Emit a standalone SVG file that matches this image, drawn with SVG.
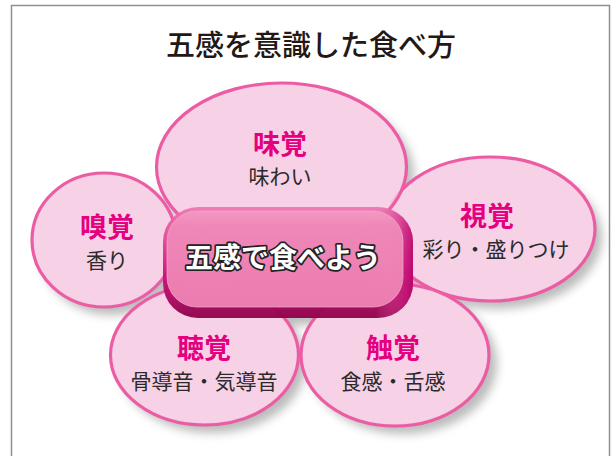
<svg xmlns="http://www.w3.org/2000/svg" width="616" height="456" viewBox="0 0 616 456">
<defs>
<style>
.petal{fill:#F6CBE1;fill-opacity:0.88;stroke:#EC5CA4;stroke-width:3.2}
.lbl{font-family:"Noto Sans CJK JP","Noto Sans",sans-serif;font-weight:bold;font-size:27px;fill:#E4007F;text-anchor:middle}
.sub{font-family:"Noto Sans CJK JP","Noto Sans",sans-serif;font-size:21px;fill:#2a2a2a;text-anchor:middle}
.title{font-family:"Noto Sans CJK JP","Noto Sans",sans-serif;font-weight:500;font-size:29px;fill:#231815;text-anchor:middle}
.hub{font-family:"Noto Sans CJK JP","Noto Sans",sans-serif;font-weight:bold;font-size:28px;fill:#ffffff;stroke:#222;stroke-width:3.5;stroke-linejoin:round;paint-order:stroke;text-anchor:middle}
</style>
<filter id="blur" x="-20%" y="-20%" width="140%" height="140%"><feGaussianBlur stdDeviation="5"/></filter>
<mask id="outside">
<rect x="0" y="0" width="616" height="456" fill="#fff"/>
<g fill="#000">
<ellipse cx="104" cy="240" rx="70" ry="65"/>
<ellipse cx="490" cy="229" rx="103" ry="70"/>
<ellipse cx="204.5" cy="355" rx="92" ry="68"/>
<ellipse cx="395" cy="355" rx="92" ry="69"/>
<ellipse cx="281.5" cy="167" rx="123" ry="82"/>
</g>
</mask>
<linearGradient id="rim" x1="0" y1="0" x2="0" y2="1">
<stop offset="0" stop-color="#EE79B2"/>
<stop offset="0.6" stop-color="#D0107E"/>
<stop offset="1" stop-color="#8E0048"/>
</linearGradient>
<linearGradient id="rimR" x1="0" y1="0" x2="1" y2="0">
<stop offset="0" stop-color="#F07CB4" stop-opacity="0"/>
<stop offset="0.85" stop-color="#F07CB4" stop-opacity="0"/>
<stop offset="1" stop-color="#B80068" stop-opacity="0.8"/>
</linearGradient>
<linearGradient id="face" x1="0" y1="0" x2="0" y2="1">
<stop offset="0" stop-color="#F39AC4"/>
<stop offset="0.15" stop-color="#F08AB9"/>
<stop offset="1" stop-color="#EF84B5"/>
</linearGradient>
</defs>
<rect x="0" y="0" width="616" height="456" fill="#ffffff"/>
<rect x="11.5" y="5.5" width="598" height="470" fill="#ffffff" stroke="#8f8f8f" stroke-width="1.5"/>
<text class="title" x="311" y="56">五感を意識した食べ方</text>
<g id="shadows" mask="url(#outside)">
<g fill="#6a6a6a" opacity="0.45" filter="url(#blur)">
<ellipse cx="111" cy="248" rx="72" ry="67"/>
<ellipse cx="497" cy="237" rx="105" ry="72"/>
<ellipse cx="212" cy="363" rx="94" ry="70"/>
<ellipse cx="403" cy="363" rx="94" ry="71"/>
<ellipse cx="289" cy="175" rx="125" ry="84"/>
<rect x="168" y="214" width="250" height="111" rx="35"/>
</g>
</g>
<g id="smell">
<ellipse class="petal" cx="104" cy="240" rx="72" ry="67"/>
<text class="lbl" x="107" y="237">嗅覚</text>
<text class="sub" x="107" y="268">香り</text>
</g>
<g id="sight">
<ellipse class="petal" cx="490" cy="229" rx="105" ry="72"/>
<text class="lbl" x="487" y="226">視覚</text>
<text class="sub" x="496" y="257">彩り・盛りつけ</text>
</g>
<g id="hearing">
<ellipse class="petal" cx="204.5" cy="355" rx="94" ry="70"/>
<text class="lbl" x="204" y="358">聴覚</text>
<text class="sub" x="204" y="389">骨導音・気導音</text>
</g>
<g id="touch">
<ellipse class="petal" cx="395" cy="355" rx="94" ry="71"/>
<text class="lbl" x="393" y="358">触覚</text>
<text class="sub" x="393" y="389">食感・舌感</text>
</g>
<g id="taste">
<ellipse class="petal" cx="281.5" cy="167" rx="125" ry="84"/>
<text class="lbl" x="280" y="154">味覚</text>
<text class="sub" x="280" y="184">味わい</text>
</g>
<g id="hub">
<rect x="163" y="207" width="250" height="111" rx="35" fill="url(#rim)" opacity="0.95"/>
<rect x="163" y="207" width="250" height="111" rx="35" fill="url(#rimR)"/>
<rect x="167" y="211" width="236" height="96" rx="30" fill="url(#face)" opacity="0.94"/>
<rect x="167" y="211" width="236" height="96" rx="30" fill="none" stroke="#F7A8CC" stroke-width="1" opacity="0.7"/>
<text class="hub" x="283" y="268">五感で食べよう</text>
</g>
</svg>
